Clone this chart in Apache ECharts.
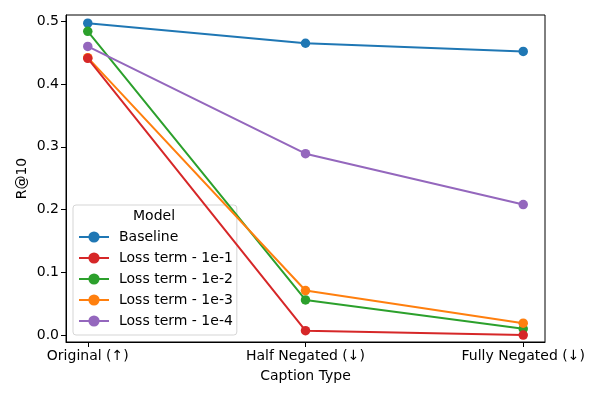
<!DOCTYPE html>
<html>
<head>
<meta charset="utf-8">
<script src="https://cdn.jsdelivr.net/npm/echarts@6/dist/echarts.min.js"></script>
<style>html,body{margin:0;padding:0;background:#fff}#c{width:600px;height:400px}</style>
</head>
<body>
<div id="c"></div>
<script>
var categories = ['Original (↑)', 'Half Negated (↓)', 'Fully Negated (↓)'];
var seriesNames = ['Baseline', 'Loss term - 1e-1', 'Loss term - 1e-2', 'Loss term - 1e-3', 'Loss term - 1e-4'];
var baseline = [0.497, 0.465, 0.452];
var loss1e1 = [0.441, 0.007, 0.000];
var loss1e2 = [0.484, 0.056, 0.010];
var loss1e3 = [0.442, 0.071, 0.019];
var loss1e4 = [0.460, 0.289, 0.208];
var yTicks = [0, 0.1, 0.2, 0.3, 0.4, 0.5];
var colors = ['#1f77b4', '#d62728', '#2ca02c', '#ff7f0e', '#9467bd'];
var allValues = [baseline, loss1e1, loss1e2, loss1e3, loss1e4];
var zOrder = [2, 7, 4, 5, 6];

var font = 'DejaVu Sans';
var fs = 14;
var chart = echarts.init(document.getElementById('c'), null, {renderer: 'canvas'});
var series = seriesNames.map(function (name, i) {
  return {
    name: name,
    type: 'line',
    z: zOrder[i],
    data: allValues[i].map(function (v, j) { return [j, v]; }),
    symbol: 'circle',
    symbolSize: 9.5,
    lineStyle: {width: 2, color: colors[i]},
    itemStyle: {color: colors[i]},
    emphasis: {disabled: true},
    animation: false
  };
});
chart.setOption({
  animation: false,
  color: colors,
  grid: {left: 66, right: 55, top: 15, bottom: 58, show: true, borderColor: '#000', borderWidth: 1, backgroundColor: 'transparent'},
  xAxis: {
    type: 'value', min: -0.1, max: 2.1,
    name: 'Caption Type', nameLocation: 'middle', nameGap: 27,
    nameTextStyle: {fontFamily: font, fontSize: fs, color: '#000'},
    axisLine: {show: true, onZero: false, lineStyle: {color: '#000', width: 1}},
    axisTick: {show: true, length: 5, lineStyle: {color: '#000'}, customValues: [0, 1, 2]},
    axisLabel: {fontFamily: font, fontSize: fs, color: '#000', margin: 7, customValues: [0, 1, 2],
      formatter: function (v) { return categories[Math.round(v)]; }},
    splitLine: {show: false}
  },
  yAxis: {
    type: 'value', min: -0.011, max: 0.51,
    name: 'R@10', nameLocation: 'middle', nameGap: 37, nameRotate: 90, nameMoveOverlap: false,
    nameTextStyle: {fontFamily: font, fontSize: fs, color: '#000'},
    axisLine: {show: true, onZero: false, lineStyle: {color: '#000', width: 1}},
    axisTick: {show: true, length: 5, lineStyle: {color: '#000'}, customValues: yTicks},
    axisLabel: {fontFamily: font, fontSize: fs, color: '#000', margin: 7, customValues: yTicks,
      formatter: function (v) { return v.toFixed(1); }},
    splitLine: {show: false}
  },
  legend: {
    orient: 'vertical', left: 73, top: 205,
    data: seriesNames,
    padding: [25, 4, 7, 5],
    itemGap: 7, itemWidth: 30, itemHeight: 14,
    backgroundColor: 'rgba(255,255,255,0.8)',
    borderColor: '#d5d5d5', borderWidth: 1, borderRadius: 3,
    textStyle: {fontFamily: font, fontSize: fs, color: '#000', padding: [0, 0, 0, 5]},
    selectedMode: false
  },
  graphic: [{
    type: 'text', left: 133, top: 209, z: 100,
    style: {text: 'Model', fontFamily: font, fontSize: fs, fill: '#000'}
  }],
  series: series
});
</script>
</body>
</html>
